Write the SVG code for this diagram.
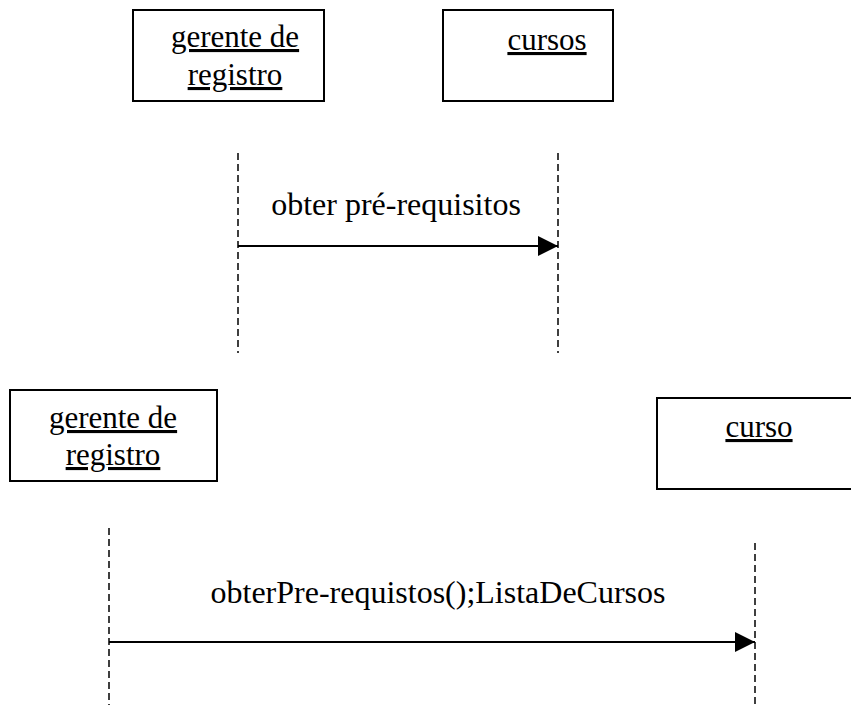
<svg xmlns="http://www.w3.org/2000/svg" width="851" height="705" viewBox="0 0 851 705">
<style>
.box{fill:#fff;stroke:#000;stroke-width:2}
.t{font-family:"Liberation Serif","Times New Roman",serif;font-size:31px;fill:#000;text-anchor:middle;text-decoration:underline}
.m{font-family:"Liberation Serif","Times New Roman",serif;font-size:32px;fill:#000;text-anchor:middle}
.life{stroke:#000;stroke-width:1.5;stroke-dasharray:7,4;fill:none}
.msg{stroke:#000;stroke-width:2;fill:none;marker-end:url(#ah)}
</style>
<defs>
<marker id="ah" markerUnits="userSpaceOnUse" markerWidth="22" markerHeight="22" refX="20" refY="10" orient="auto">
<path d="M0,0 L20,10 L0,20 Z" fill="#000"/>
</marker>
</defs>
<rect width="851" height="705" fill="#fff"/>
<g id="gerente1">
<rect class="box" x="133" y="10" width="191" height="91"/>
<text class="t" x="235" y="47">gerente de</text>
<text class="t" x="235" y="85">registro</text>
</g>
<g id="cursos">
<rect class="box" x="443" y="10" width="170" height="91"/>
<text class="t" x="547" y="50">cursos</text>
</g>
<g id="gerente2">
<rect class="box" x="10" y="390" width="207" height="91"/>
<text class="t" x="113" y="428">gerente de</text>
<text class="t" x="113" y="465">registro</text>
</g>
<g id="curso">
<rect class="box" x="657" y="398" width="200" height="91"/>
<text class="t" x="759" y="437">curso</text>
</g>
<g id="connectors">
<line class="life" x1="238" y1="153" x2="238" y2="353"/>
<line class="life" x1="558" y1="153" x2="558" y2="353"/>
<line class="msg" x1="238" y1="246" x2="558" y2="246"/>
<text class="m" x="396" y="215">obter pré-requisitos</text>
<line class="life" x1="109" y1="528" x2="109" y2="705"/>
<line class="life" x1="755" y1="543" x2="755" y2="705"/>
<line class="msg" x1="109" y1="642" x2="755" y2="642"/>
<text class="m" x="438" y="603">obterPre-requistos();ListaDeCursos</text>
</g>
</svg>
